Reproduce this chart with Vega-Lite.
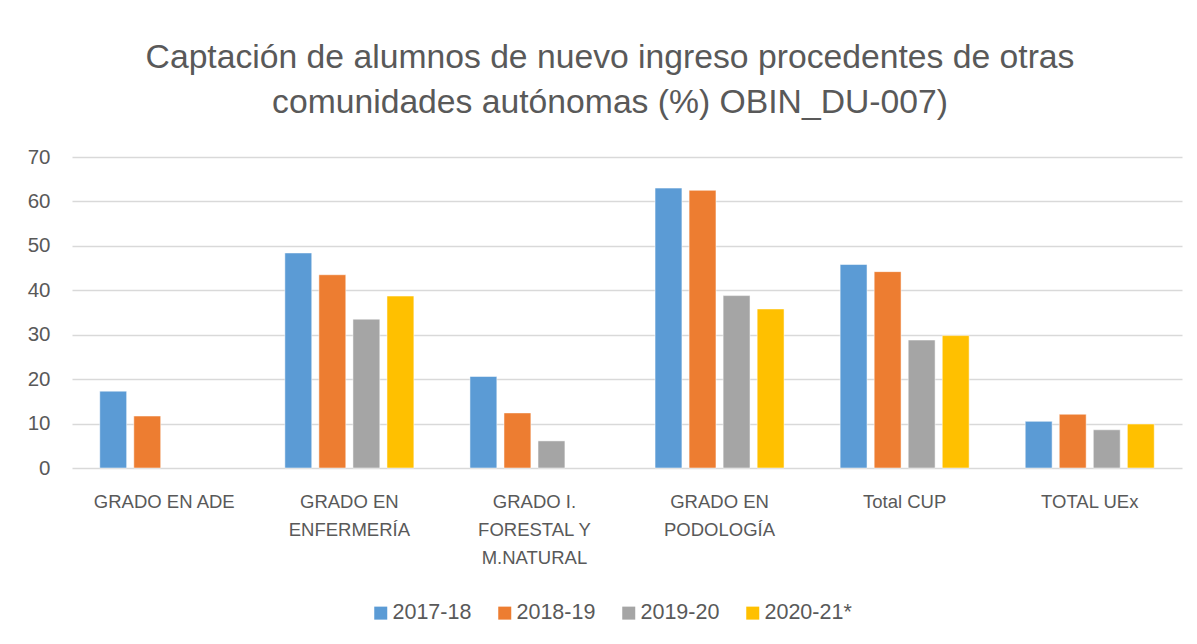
{
  "$schema": "https://vega.github.io/schema/vega-lite/v6.json",
  "autosize": {"type": "none"},
  "padding": {"left": 72, "top": 157, "right": 15, "bottom": 176},
  "width": 1110,
  "height": 311,
  "background": "white",
  "title": {
    "text": ["Captación de alumnos de nuevo ingreso procedentes de otras", "comunidades autónomas (%) OBIN_DU-007)"],
    "font": "Liberation Sans",
    "fontSize": 33.7,
    "fontWeight": "normal",
    "color": "#595959",
    "anchor": "middle",
    "dx": -17,
    "offset": 27,
    "lineHeight": 45
  },
  "data": {
    "values": [
      {"category": "GRADO EN ADE", "year": "2017-18", "value": 17.3},
      {"category": "GRADO EN ADE", "year": "2018-19", "value": 11.7},
      {"category": "GRADO EN ENFERMERÍA", "year": "2017-18", "value": 48.4},
      {"category": "GRADO EN ENFERMERÍA", "year": "2018-19", "value": 43.5},
      {"category": "GRADO EN ENFERMERÍA", "year": "2019-20", "value": 33.5},
      {"category": "GRADO EN ENFERMERÍA", "year": "2020-21*", "value": 38.7},
      {"category": "GRADO I. FORESTAL Y M.NATURAL", "year": "2017-18", "value": 20.6},
      {"category": "GRADO I. FORESTAL Y M.NATURAL", "year": "2018-19", "value": 12.4},
      {"category": "GRADO I. FORESTAL Y M.NATURAL", "year": "2019-20", "value": 6.1},
      {"category": "GRADO EN PODOLOGÍA", "year": "2017-18", "value": 63.0},
      {"category": "GRADO EN PODOLOGÍA", "year": "2018-19", "value": 62.5},
      {"category": "GRADO EN PODOLOGÍA", "year": "2019-20", "value": 38.8},
      {"category": "GRADO EN PODOLOGÍA", "year": "2020-21*", "value": 35.8},
      {"category": "Total CUP", "year": "2017-18", "value": 45.8},
      {"category": "Total CUP", "year": "2018-19", "value": 44.2},
      {"category": "Total CUP", "year": "2019-20", "value": 28.8},
      {"category": "Total CUP", "year": "2020-21*", "value": 29.8},
      {"category": "TOTAL UEx", "year": "2017-18", "value": 10.5},
      {"category": "TOTAL UEx", "year": "2018-19", "value": 12.1},
      {"category": "TOTAL UEx", "year": "2019-20", "value": 8.6},
      {"category": "TOTAL UEx", "year": "2020-21*", "value": 9.9}
    ]
  },
  "mark": {"type": "bar", "stroke": "white", "strokeOpacity": 0.5, "strokeWidth": 1},
  "encoding": {
    "x": {
      "field": "category",
      "type": "nominal",
      "sort": ["GRADO EN ADE", "GRADO EN ENFERMERÍA", "GRADO I. FORESTAL Y M.NATURAL", "GRADO EN PODOLOGÍA", "Total CUP", "TOTAL UEx"],
      "scale": {"paddingInner": 0.303, "paddingOuter": 0.15},
      "axis": {
        "title": null,
        "labelAngle": 0,
        "domain": false,
        "ticks": false,
        "labelFont": "Liberation Sans",
        "labelFontSize": 18.5,
        "labelColor": "#595959",
        "labelPadding": 24,
        "labelLineHeight": 28,
        "labelBaseline": "top",
        "labelExpr": "datum.value == 'GRADO EN ENFERMERÍA' ? ['GRADO EN', 'ENFERMERÍA'] : datum.value == 'GRADO I. FORESTAL Y M.NATURAL' ? ['GRADO I.', 'FORESTAL Y', 'M.NATURAL'] : datum.value == 'GRADO EN PODOLOGÍA' ? ['GRADO EN', 'PODOLOGÍA'] : datum.value"
      }
    },
    "xOffset": {
      "field": "year",
      "type": "nominal",
      "sort": ["2017-18", "2018-19", "2019-20", "2020-21*"],
      "scale": {"domain": ["2017-18", "2018-19", "2019-20", "2020-21*"], "paddingInner": 0.21, "paddingOuter": 0}
    },
    "y": {
      "field": "value",
      "type": "quantitative",
      "scale": {"domain": [0, 70], "nice": false},
      "axis": {
        "title": null,
        "values": [0, 10, 20, 30, 40, 50, 60, 70],
        "domain": false,
        "ticks": false,
        "labelFont": "Liberation Sans",
        "labelFontSize": 20.5,
        "labelColor": "#595959",
        "labelPadding": 22,
        "gridColor": "#d9d9d9",
        "gridWidth": 1.5
      }
    },
    "color": {
      "field": "year",
      "type": "nominal",
      "sort": ["2017-18", "2018-19", "2019-20", "2020-21*"],
      "scale": {"domain": ["2017-18", "2018-19", "2019-20", "2020-21*"], "range": ["#5B9BD5", "#ED7D31", "#A5A5A5", "#FFC000"]},
      "legend": {
        "title": null,
        "orient": "none",
        "legendX": 298,
        "legendY": 445,
        "direction": "horizontal",
        "columns": 4,
        "columnPadding": 22,
        "symbolType": "square",
        "symbolSize": 169,
        "symbolStrokeWidth": 0,
        "symbolOpacity": 1,
        "labelFont": "Liberation Sans",
        "labelFontSize": 21.5,
        "labelColor": "#595959",
        "labelOffset": 1,
        "labelLimit": 200
      }
    }
  },
  "config": {
    "view": {"stroke": null}
  }
}
